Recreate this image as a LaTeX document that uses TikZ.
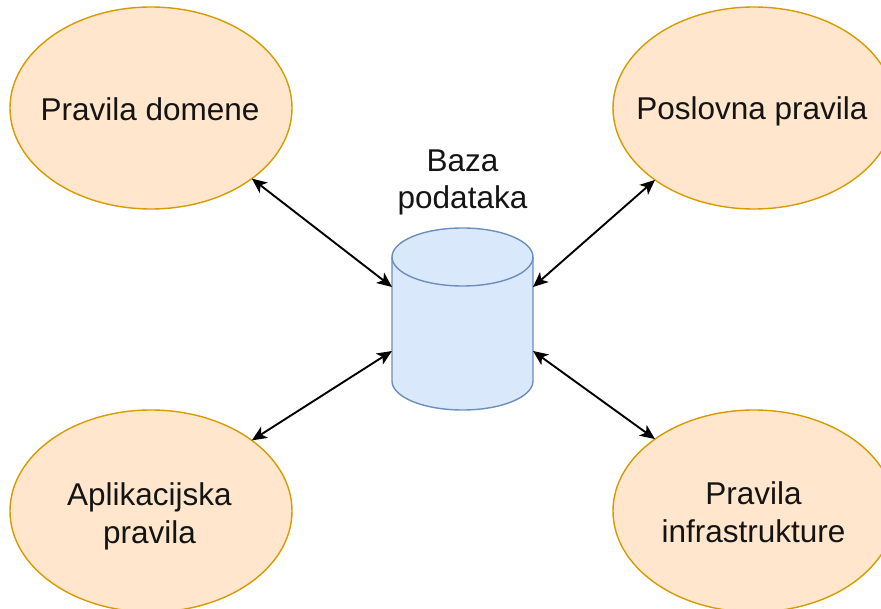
\documentclass[tikz,border=0pt]{standalone}
\usepackage{fontspec}
\setmainfont{Liberation Sans}
\usetikzlibrary{arrows.meta,shapes.geometric}
\definecolor{ellfill}{HTML}{FFE6CC}
\definecolor{elldraw}{HTML}{D79B00}
\definecolor{cylfill}{HTML}{DAE8FC}
\definecolor{cyldraw}{HTML}{6C8EBF}
\definecolor{txtcol}{HTML}{141414}
\begin{document}
\begin{tikzpicture}[x=1pt,y=-1pt,
 ell/.style={ellipse, draw=elldraw, fill=ellfill, line width=1.4pt, minimum width=282pt, minimum height=202pt, inner sep=0pt, outer sep=0pt},
 lbl/.style={anchor=base, inner sep=0pt, text=txtcol, font=\fontsize{31.5}{38}\selectfont},
 cylline/.style={draw=cyldraw, line width=1.4pt},
 arr/.style={line width=1.9pt, {Stealth[length=15pt,width=13pt,inset=4pt]}-{Stealth[length=15pt,width=13pt,inset=4pt]}}
]
\path[use as bounding box, fill=white] (0,0) rectangle (881,609);

% ellipses
\node[ell] (tl) at (151,108) {};
\node[ell] (tr) at (754,108) {};
\node[ell] (bl) at (151,511) {};
\node[ell] (br) at (754,511) {};

% cylinder
\fill[cylfill] (392,257) -- (392,381) arc[start angle=180, end angle=360, x radius=70.5, y radius=-29] -- (533,257) arc[start angle=0, end angle=180, x radius=70.5, y radius=-29] -- cycle;
\draw[cylline] (392,257) -- (392,381) arc[start angle=180, end angle=360, x radius=70.5, y radius=-29] -- (533,257);
\draw[cylline] (462.5,257) ellipse[x radius=70.5, y radius=29];
\coordinate (cl1) at (392,287);
\coordinate (cl2) at (392,351);
\coordinate (cr1) at (533,287);
\coordinate (cr2) at (533,351);

% labels
\node[lbl] (tlt) at (150,121) {Pravila domene};
\node[lbl] (trt) at (752,120) {Poslovna pravila};
\node[lbl, font=\fontsize{31.5}{36.5}\selectfont] (dbt) at (462.5,172) {\begin{tabular}[t]{@{}c@{}}Baza\\podataka\end{tabular}};
\node[lbl] (blt) at (149.5,505) {\begin{tabular}[t]{@{}c@{}}Aplikacijska\\pravila\end{tabular}};
\node[lbl] (brt) at (753.5,504) {\begin{tabular}[t]{@{}c@{}}Pravila\\infrastrukture\end{tabular}};

% connectors
\draw[arr] (tl.-35.5) -- (cl1);
\draw[arr] (tr.-144.5) -- (cr1);
\draw[arr] (bl.35.9) -- (cl2);
\draw[arr] (br.144.1) -- (cr2);
\end{tikzpicture}
\end{document}
